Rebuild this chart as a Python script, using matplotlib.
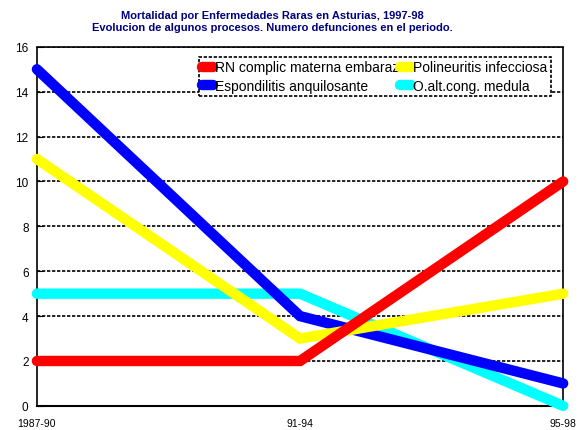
import matplotlib.pyplot as plt

periods = ['1987-90', '91-94', '95-98']
rn_complic = [2, 2, 10]
polineuritis = [11, 3, 5]
espondilitis = [15, 4, 1]
oalt_medula = [5, 5, 0]

series = [
    ('RN complic materna embaraz', rn_complic, '#ff0000'),
    ('Polineuritis infecciosa', polineuritis, '#ffff00'),
    ('Espondilitis anquilosante', espondilitis, '#0000ff'),
    ('O.alt.cong. medula', oalt_medula, '#00ffff'),
]

plt.rcParams['font.family'] = ['Liberation Sans', 'DejaVu Sans']

fig = plt.figure(figsize=(5.86, 4.31), dpi=100)
ax = fig.add_axes([0.063, 0.056, 0.898, 0.833])

x = list(range(len(periods)))
handles = {}
for i, (name, vals, color) in enumerate(series):
    h, = ax.plot(x, vals, color=color, lw=7.5, solid_capstyle='round',
                 solid_joinstyle='miter', label=name, zorder=10 - i, clip_on=False)
    handles[name] = h

ax.set_xlim(0, 2)
ax.set_ylim(0, 16)
ax.set_yticks(range(0, 17, 2))
ax.set_xticks(x)
ax.set_xticklabels(periods, fontsize=7.5)
ax.tick_params(axis='y', direction='in', length=4, labelsize=8.5, pad=6)
ax.tick_params(axis='x', length=0, pad=9)
ax.yaxis.grid(True, color='black', linestyle=(0, (2, 1)), lw=1.2)

for side in ['left', 'top', 'right']:
    ax.spines[side].set_linestyle((0, (2, 1)))
    ax.spines[side].set_linewidth(1.2)
ax.spines['bottom'].set_linewidth(1.5)

order = ['RN complic materna embaraz', 'Espondilitis anquilosante',
         'Polineuritis infecciosa', 'O.alt.cong. medula']
leg = ax.legend([handles[n] for n in order], order, ncol=2, loc='upper right',
                bbox_to_anchor=(0.977, 0.972), borderaxespad=0, fontsize=10,
                handlelength=0.8, handletextpad=0.15, columnspacing=0.05,
                borderpad=0.25, labelspacing=0.3, fancybox=False, framealpha=1)
leg.get_frame().set_edgecolor('black')
leg.get_frame().set_linestyle((0, (2, 1)))
leg.get_frame().set_linewidth(1.2)
leg.set_zorder(20)

fig.suptitle('Mortalidad por Enfermedades Raras en Asturias, 1997-98\n'
             'Evolucion de algunos procesos. Numero defunciones en el periodo.',
             fontsize=8, fontweight='bold', color='#000080', x=0.465, y=0.975,
             linespacing=1.3)

fig.savefig('out.png', dpi=100)
